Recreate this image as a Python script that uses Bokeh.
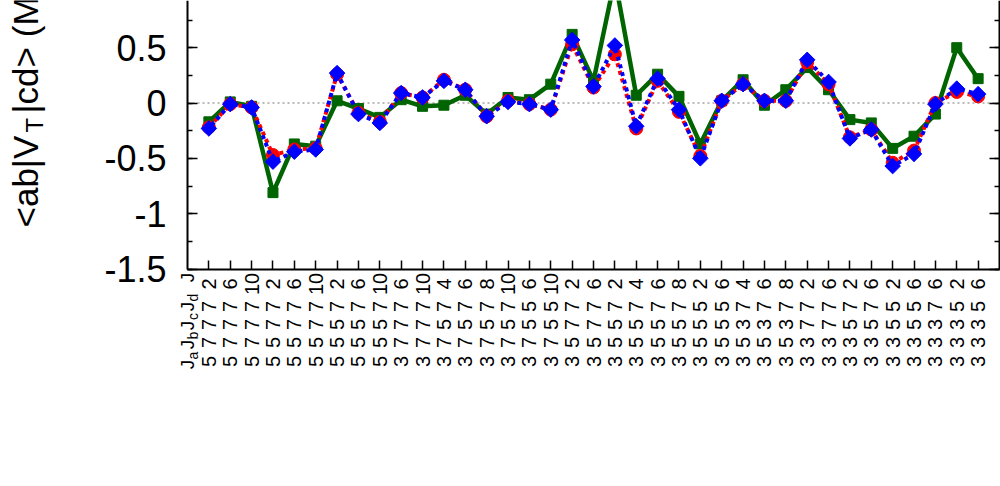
import math
import numpy as np
from bokeh.plotting import figure
from bokeh.models import Range1d, LinearAxis, FixedTicker, ColumnDataSource
from bokeh.embed import file_html
from bokeh.resources import INLINE
from bokeh.core.properties import value

# ---------------- data ----------------
Ja = ["5", "5", "5", "5", "5", "5", "5", "5", "5", "3", "3", "3", "3", "3", "3", "3", "3", "3", "3",
      "3", "3", "3", "3", "3", "3", "3", "3", "3", "3", "3", "3", "3", "3", "3", "3", "3", "3"]
Jb = ["7", "7", "7", "5", "5", "5", "5", "5", "5", "7", "7", "7", "7", "7", "7", "7", "7", "5", "5",
      "5", "5", "5", "5", "5", "5", "5", "5", "5", "3", "3", "3", "3", "3", "3", "3", "3", "3"]
Jc = ["7", "7", "7", "7", "7", "7", "5", "5", "5", "7", "7", "5", "5", "5", "5", "5", "5", "7", "7",
      "5", "5", "5", "5", "5", "5", "3", "3", "3", "7", "7", "5", "5", "5", "5", "3", "3", "3"]
Jd = ["7", "7", "7", "7", "7", "7", "7", "7", "7", "7", "7", "7", "7", "7", "7", "5", "5", "7", "7",
      "7", "7", "7", "7", "5", "5", "7", "7", "7", "7", "7", "7", "7", "5", "5", "7", "5", "5"]
J = ["2", "6", "10", "2", "6", "10", "2", "6", "10", "6", "10", "4", "6", "8", "10", "6", "10", "2", "6",
     "2", "4", "6", "8", "2", "6", "4", "6", "8", "2", "6", "2", "6", "2", "6", "6", "2", "6"]

green = [-0.17, 0.01, -0.03, -0.81, -0.37, -0.39, 0.02, -0.05, -0.13, 0.03, -0.03, -0.02, 0.07,
         -0.10, 0.05, 0.03, 0.17, 0.62, 0.20, 1.12, 0.07, 0.26, 0.06, -0.37, 0.02, 0.21, -0.02,
         0.12, 0.32, 0.12, -0.15, -0.18, -0.41, -0.30, -0.10, 0.50, 0.22]
red = [-0.22, -0.01, -0.04, -0.47, -0.42, -0.41, 0.26, -0.09, -0.17, 0.09, 0.05, 0.21, 0.12,
       -0.12, 0.02, -0.01, -0.06, 0.53, 0.14, 0.44, -0.23, 0.20, -0.08, -0.48, 0.02, 0.17, 0.02,
       0.02, 0.37, 0.17, -0.31, -0.24, -0.54, -0.43, 0.00, 0.10, 0.06]
blue = [-0.23, -0.01, -0.04, -0.53, -0.44, -0.42, 0.27, -0.10, -0.18, 0.09, 0.05, 0.20, 0.12,
        -0.12, 0.01, -0.01, -0.06, 0.57, 0.15, 0.52, -0.21, 0.22, -0.06, -0.50, 0.02, 0.17, 0.02,
        0.02, 0.39, 0.19, -0.32, -0.24, -0.57, -0.46, -0.01, 0.13, 0.08]

ytick_vals = [-1.5, -1.0, -0.5, 0.0, 0.5, 1.0]
ytick_labels = ["-1.5", "-1", "-0.5", "0", "0.5", "1"]
header_rows = ["J", "d", "c", "b", "a"]  # subscripts of the header "J" labels
ylabel_parts = ["<ab|V", "T", "|cd> (MeV)"]

idx = list(range(len(J)))

# ---------------- layout (pixels) ----------------
W, H = 1000, 486
FONT = "Liberation Sans"
X_LO, X_HI = -1, 37          # axis box in data units
Y_LO, Y_HI = -1.5, 1.0
BOX_L, BOX_R = 187, 999      # pixel positions of x = X_LO, X_HI
BOX_B, ZERO_PX = 268.5, 102.5  # pixel positions of y = Y_LO and y = 0

sx = (BOX_R - BOX_L) / (X_HI - X_LO)
sy = (BOX_B - ZERO_PX) / (0 - Y_LO)
x_start = X_LO - BOX_L / sx
x_end = X_HI + (W - BOX_R) / sx
y_end = ZERO_PX / sy
y_start = y_end - H / sy


def px_y(py):
    """pixel row (from the top) -> data y"""
    return y_end - py / sy


def px_x(px):
    return x_start + px / sx


p = figure(width=W, height=H, output_backend="svg", toolbar_location=None,
           x_range=Range1d(x_start, x_end), y_range=Range1d(y_start, y_end),
           x_axis_type=None, y_axis_type=None,
           min_border_left=0, min_border_right=0, min_border_top=0, min_border_bottom=0)
p.outline_line_color = None
p.xgrid.visible = False
p.ygrid.visible = False
p.background_fill_color = "white"
p.border_fill_color = "white"

minor = list(np.arange(-1.5, 1.01, 0.25))


def style_y(ax, labels=True):
    ax.ticker = FixedTicker(ticks=ytick_vals, minor_ticks=minor)
    ax.bounds = (Y_LO, Y_HI)
    ax.major_tick_in = 10
    ax.major_tick_out = 0
    ax.minor_tick_in = 5
    ax.minor_tick_out = 0
    ax.axis_line_width = 2
    ax.major_tick_line_width = 1.5
    ax.minor_tick_line_width = 1.5
    ax.axis_line_color = "black"
    if labels:
        ax.major_label_overrides = {v: t for v, t in zip(ytick_vals, ytick_labels)}
        ax.major_label_text_font = FONT
        ax.major_label_text_font_size = "36px"
        ax.major_label_text_color = "black"
        ax.major_label_standoff = 21
    else:
        ax.major_label_text_font_size = "1px"
        ax.major_label_text_color = None
        ax.major_label_standoff = 0


yl = LinearAxis(fixed_location=X_LO)
style_y(yl)
p.add_layout(yl, "left")
yr = LinearAxis(fixed_location=X_HI)
style_y(yr, labels=False)
p.add_layout(yr, "right")

xb = LinearAxis(fixed_location=Y_LO)
xb.ticker = FixedTicker(ticks=idx)
xb.bounds = (X_LO, X_HI)
xb.major_tick_in = 9
xb.major_tick_out = 0
xb.minor_tick_line_color = None
xb.axis_line_width = 2
xb.major_tick_line_width = 1.5
xb.major_label_text_font_size = "1px"
xb.major_label_text_color = None
xb.major_label_standoff = 0
p.add_layout(xb, "below")

# dotted zero line across the axis box
p.segment(x0=[X_LO], x1=[X_HI], y0=[0], y1=[0], line_color="#777777",
          line_width=1, line_dash="2 3")

# ---------------- series ----------------
src = ColumnDataSource(dict(x=idx, g=green, r=red, b=blue))
p.line("x", "g", source=src, line_color="#006400", line_width=4.5)
p.scatter("x", "g", source=src, marker="square", size=10, fill_color="#006400",
          line_color="#006400")
p.line("x", "r", source=src, line_color="#ff0000", line_width=4, line_dash="4 4")
p.scatter("x", "r", source=src, marker="circle", size=13, fill_color="#ff0000",
          line_color="#ff0000")
p.line("x", "b", source=src, line_color="#0000ff", line_width=4, line_dash="4 4",
       line_dash_offset=4)
p.scatter("x", "b", source=src, marker="square", angle=math.pi / 4, size=11,
          fill_color="#0000ff", line_color="#0000ff")

# ---------------- x category labels (rotated, stacked rows) ----------------
row_px = [283.5, 306, 324, 342, 361]   # pixel rows of J, Jd, Jc, Jb, Ja
rows = [J, Jd, Jc, Jb, Ja]
for ry, row in zip(row_px, rows):
    p.text(x=idx, y=[px_y(ry)] * len(idx), text=row, angle=math.pi / 2,
           text_align="center", text_baseline="middle",
           text_font=value(FONT), text_font_size=value("20px"), text_color="black")

# header "J, Jd, Jc, Jb, Ja" at the left end of the axis
head_px = [277, 302, 321, 340, 360]
for hy, sub in zip(head_px, header_rows):
    if sub == "J":
        p.text(x=[X_LO], y=[px_y(hy)], text=["J"], angle=math.pi / 2,
               text_align="center", text_baseline="middle",
               text_font=value(FONT), text_font_size=value("19px"))
    else:
        p.text(x=[X_LO], y=[px_y(hy + 4)], text=["J"], angle=math.pi / 2,
               text_align="center", text_baseline="middle",
               text_font=value(FONT), text_font_size=value("19px"))
        p.text(x=[X_LO], y=[px_y(hy - 5)], x_offset=5, text=[sub], angle=math.pi / 2,
               text_align="center", text_baseline="middle",
               text_font=value(FONT), text_font_size=value("14px"))

# ---------------- y axis title (rotated, with subscript T) ----------------
# size, anchor column (px, em-box middle), start row (px)
title_style = [(35, 25, 227.0), (24, 34, 132.0), (35, 25, 113.0)]
for txt, (fs, bx, by) in zip(ylabel_parts, title_style):
    p.text(x=[px_x(bx)], y=[px_y(by)], text=[txt], angle=math.pi / 2,
           text_align="left", text_baseline="middle",
           text_font=value(FONT), text_font_size=value(f"{fs}px"), text_color="black")

open("out.html", "w").write(file_html(p, INLINE))
